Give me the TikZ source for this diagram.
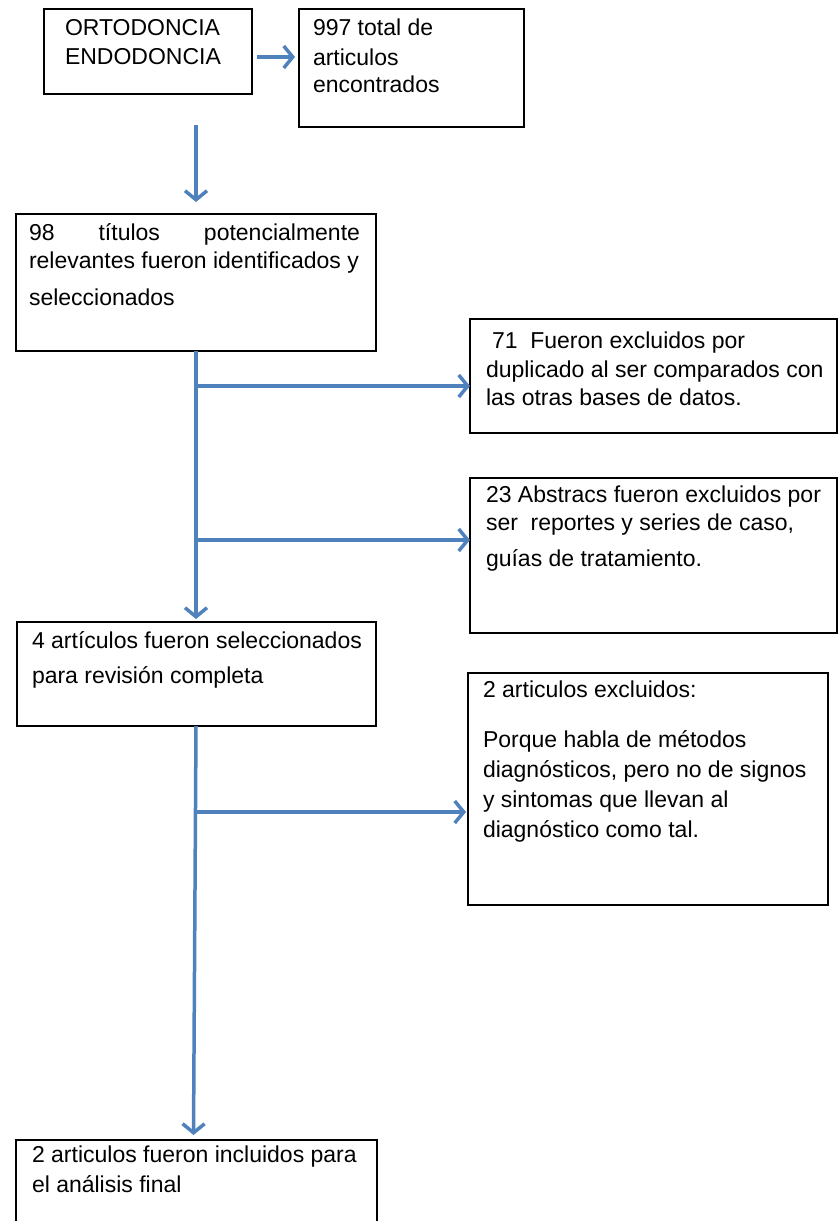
\documentclass[tikz,border=0pt]{standalone}
\usepackage{fontspec}
\setmainfont{Liberation Sans}
\usetikzlibrary{arrows.meta,calc}
\definecolor{arrowblue}{RGB}{79,129,189}
\begin{document}
\begin{tikzpicture}[x=1pt,y=-1pt,
  box/.style={draw=black,line width=1.5pt,rectangle,anchor=north west,inner sep=0pt,outer sep=0pt},
  txt/.style={anchor=base west,inner sep=0pt,outer sep=0pt,font=\fontsize{23}{28}\selectfont},
  arr/.style={draw=arrowblue,line width=3.5pt,-{Straight Barb[length=9pt,width=22pt]}},
  ln/.style={draw=arrowblue,line width=3.5pt}]
\useasboundingbox (0,0) rectangle (839,1221);
\begin{scope}
\clip (0,0) rectangle (839,1221);
% boxes
\node[box,minimum width=208pt,minimum height=85pt] (A) at (44,9) {};
\node[box,minimum width=225pt,minimum height=118pt] (B) at (299,9) {};
\node[box,minimum width=360pt,minimum height=137pt] (C) at (16,214) {};
\node[box,minimum width=367pt,minimum height=114pt] (D) at (470,319) {};
\node[box,minimum width=367pt,minimum height=155pt] (E) at (470,478) {};
\node[box,minimum width=359pt,minimum height=104pt] (F) at (17,622) {};
\node[box,minimum width=360pt,minimum height=232pt] (G) at (468,673) {};
\node[box,minimum width=361pt,minimum height=120pt] (H) at (16,1140) {};
% texts
\node[txt] (tA1) at (65,35) {ORTODONCIA};
\node[txt] (tA2) at (65,64) {ENDODONCIA};
\node[txt] (tB1) at (313,35) {997 total de};
\node[txt] (tB2) at (313,65) {articulos};
\node[txt] (tB3) at (313,92) {encontrados};
\node[txt] (tC1) at (29,240) {\hbox to 331pt{98\hfill títulos\hfill potencialmente}};
\node[txt] (tC2) at (29,268) {relevantes fueron identificados y};
\node[txt] (tC3) at (29,305) {seleccionados};
\node[txt] (tD1) at (492,348) {71\ \ Fueron excluidos por};
\node[txt] (tD2) at (486,377) {duplicado al ser comparados con};
\node[txt] (tD3) at (486,405) {las otras bases de datos.};
\node[txt] (tE1) at (486,502) {23 Abstracs fueron excluidos por};
\node[txt] (tE2) at (486,530) {ser\ \ reportes y series de caso,};
\node[txt] (tE3) at (486,566) {guías de tratamiento.};
\node[txt] (tF1) at (32,648) {4 artículos fueron seleccionados};
\node[txt] (tF2) at (32,683) {para revisión completa};
\node[txt] (tG1) at (483,697) {2 articulos excluidos:};
\node[txt] (tG2) at (483,747) {Porque habla de métodos};
\node[txt] (tG3) at (483,777) {diagnósticos, pero no de signos};
\node[txt] (tG4) at (483,807) {y sintomas que llevan al};
\node[txt] (tG5) at (483,837) {diagnóstico como tal.};
\node[txt] (tH1) at (32,1162) {2 articulos fueron incluidos para};
\node[txt] (tH2) at (32,1192) {el análisis final};
% connectors
\coordinate (a1) at ($(A.east)+(5,5.5)$);
\coordinate (s0) at (196,125);
\coordinate (jD) at (196,386);
\coordinate (jE) at (196,540);
\coordinate (jG) at (196,812);
\draw[arr] (a1) -- ($(a1 -| B.west)+(-4,0)$);
\draw[arr] (s0) -- ($(C.north)+(0,-12)$);
\draw[arr] (C.south) -- ($(F.north)+(-0.5,-3)$);
\draw[arr] (jD) -- (jD -| D.west);
\draw[arr] (jE) -- (jE -| E.west);
\draw[arr] ($(F.south)+(-0.5,0)$) -- ($(H.north)+(-3,-5)$);
\draw[arr] (jG) -- ($(jG -| G.west)+(-2,0)$);
\end{scope}
\end{tikzpicture}
\end{document}
